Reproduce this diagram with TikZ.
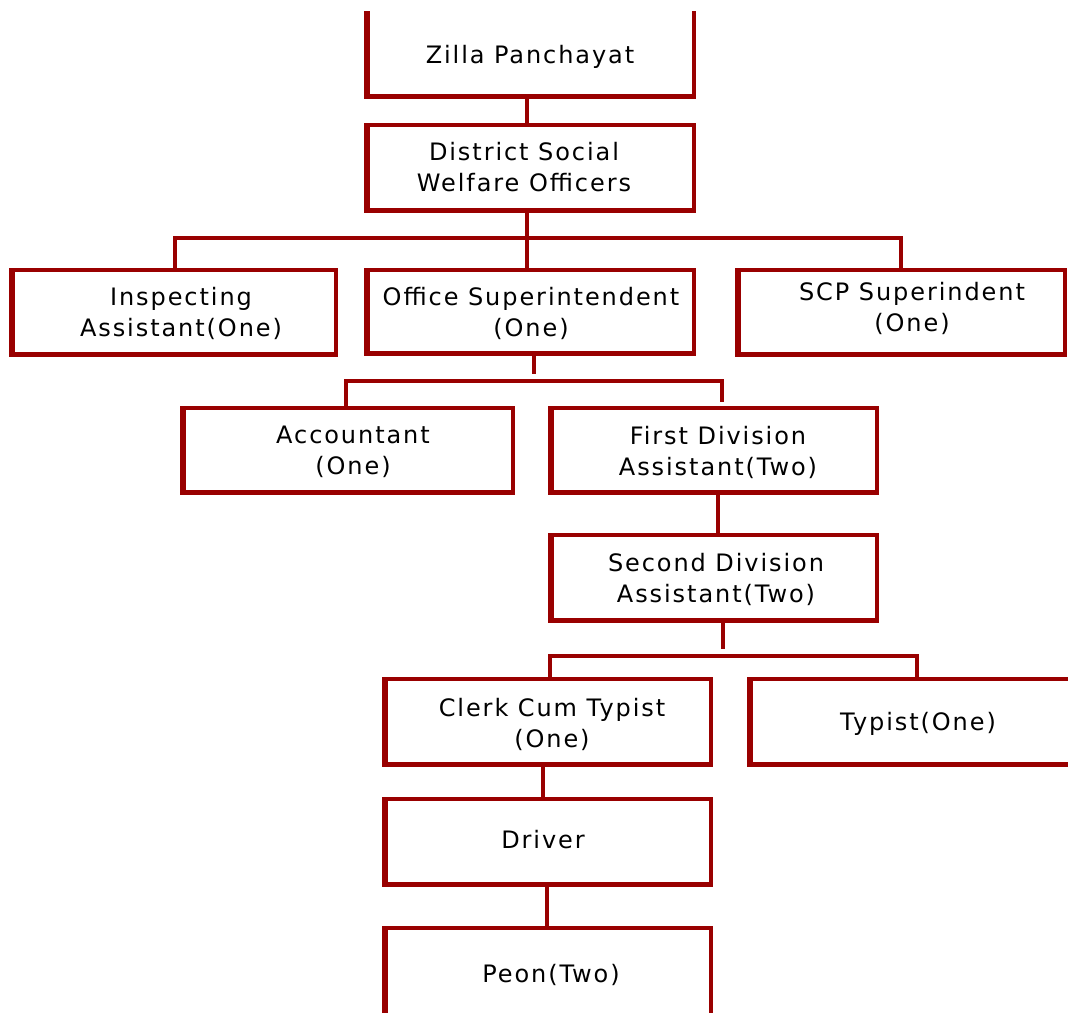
\documentclass[tikz,border=0pt]{standalone}
\usepackage{fontspec}
\setmainfont{DejaVu Sans}[LetterSpace=8]
\definecolor{bxred}{RGB}{153,0,0}
\tikzset{
  box/.style={draw=bxred, line width=4pt, inner sep=0pt, outer sep=0pt, fill=none},
  conn/.style={draw=bxred, line width=4pt, line join=miter},
  txt/.style={align=center, inner sep=0pt, font=\fontsize{24}{31}\selectfont, text=black}
}
% \mkbox{name}{x0}{y0}{x1}{y1}  (outer pixel extents, y downwards)
\newcommand\mkbox[5]{%
  \pgfmathsetmacro\bxl{#2+3}\pgfmathsetmacro\bxr{#4-2}%
  \pgfmathsetmacro\bxt{#3+2}\pgfmathsetmacro\bxb{#5-2.5}%
  \pgfmathsetmacro\bxw{\bxr-\bxl}\pgfmathsetmacro\bxh{\bxb-\bxt}%
  \pgfmathsetmacro\bxcx{(\bxl+\bxr)/2}\pgfmathsetmacro\bxcy{(\bxt+\bxb)/2}%
  \node[box, minimum width=\bxw pt, minimum height=\bxh pt] (#1) at (\bxcx,\bxcy) {};
  \draw[line width=6pt, draw=bxred] ([yshift=2pt]#1.north west) -- (#1.south west);
  \draw[line width=5pt, draw=bxred] ([xshift=-3pt]#1.south west) -- (#1.south east);
}
\begin{document}
\begin{tikzpicture}[x=1pt,y=-1pt]
\useasboundingbox (0,0) rectangle (1068,1012);
\fill[white] (0,0) rectangle (1068,1012);
\begin{scope}
\clip (0,11) rectangle (1068,1012);
% boxes
\mkbox{zilla}{364}{-20}{696}{99}
\mkbox{dswo}{364}{123}{696}{213}
\mkbox{insp}{9}{268}{338}{357}
\mkbox{office}{364}{268}{696}{356}
\mkbox{scp}{735}{268}{1067}{357}
\mkbox{acct}{180}{406}{515}{495}
\mkbox{fda}{548}{406}{879}{495}
\mkbox{sda}{548}{533}{879}{623}
\mkbox{clerk}{382}{677}{713}{767}
\mkbox{typist}{747}{677}{1090}{767}
\mkbox{driver}{382}{797}{713}{887}
\mkbox{peon}{382}{926}{713}{1040}
\end{scope}
% junction coordinates
\coordinate (j0) at (527,237.5);
\coordinate (a1) at (175,237.5);
\coordinate (a2) at (901,237.5);
\coordinate (b0) at (534,374);
\coordinate (b1) at (346,380.5);
\coordinate (b2) at (722,380.5);
\coordinate (b3) at (722,402);
\coordinate (c0) at (718,500);
\coordinate (d0) at (723,649);
\coordinate (d1) at (550,656);
\coordinate (d2) at (917,656);
\coordinate (e0) at (543,780);
\coordinate (f0) at (547,900);
% connectors
\draw[conn] (zilla.south -| j0) -- (dswo.north -| j0);
\draw[conn] (dswo.south -| j0) -- (office.north -| j0);
\draw[conn] (insp.north -| a1) -- (a1) -- (a2) -- (scp.north -| a2);
\draw[conn] (office.south -| b0) -- (b0);
\draw[conn] (acct.north -| b1) -- (b1) -- (b2) -- (b3);
\draw[conn] (fda.south -| c0) -- (sda.north -| c0);
\draw[conn] (sda.south -| d0) -- (d0);
\draw[conn] (clerk.north -| d1) -- (d1) -- (d2) -- (typist.north -| d2);
\draw[conn] (clerk.south -| e0) -- (driver.north -| e0);
\draw[conn] (driver.south -| f0) -- (peon.north -| f0);
% texts
\node[txt] (tzilla) at (530,57) {Zilla Panchayat};
\node[txt] (tdswo) at (524,167) {District Social\\Welfare Officers};
\node[txt] (tinsp) at (181,313) {Inspecting\\Assistant(One)};
\node[txt] (toffice) at (531,313) {Office Superintendent\\(One)};
\node[txt] (tscp) at (912,308) {SCP Superindent\\(One)};
\node[txt] (tacct) at (353,452) {Accountant\\(One)};
\node[txt] (tfda) at (718,452) {First Division\\Assistant(Two)};
\node[txt] (tsda) at (716,579) {Second Division\\Assistant(Two)};
\node[txt] (tclerk) at (552,724) {Clerk Cum Typist\\(One)};
\node[txt] (ttypist) at (918,724) {Typist(One)};
\node[txt] (tdriver) at (543,840) {Driver};
\node[txt] (tpeon) at (551,975) {Peon(Two)};
\end{tikzpicture}
\end{document}
